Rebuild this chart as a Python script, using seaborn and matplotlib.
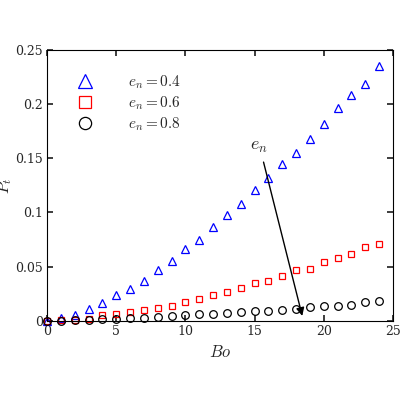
import matplotlib
matplotlib.use("Agg")
import matplotlib.pyplot as plt
import seaborn as sns
import pandas as pd

sns.set_theme(style="ticks")
plt.rcParams['font.family'] = ['DejaVu Serif']
plt.rcParams['mathtext.fontset'] = 'cm'

bo = list(range(25))
p04 = [0, 0.003, 0.0055, 0.011, 0.016, 0.024, 0.029, 0.037, 0.047, 0.055, 0.066, 0.075, 0.087,
       0.098, 0.108, 0.121, 0.132, 0.145, 0.155, 0.168, 0.182, 0.196, 0.208, 0.219, 0.235]
p06 = [0, 0.0005, 0.001, 0.002, 0.005, 0.006, 0.008, 0.010, 0.012, 0.014, 0.0175, 0.020, 0.024,
       0.027, 0.030, 0.035, 0.037, 0.041, 0.047, 0.048, 0.054, 0.058, 0.062, 0.068, 0.071]
p08 = [0, 0, 0.001, 0.001, 0.0015, 0.002, 0.0025, 0.003, 0.0035, 0.004, 0.005, 0.006, 0.0065,
       0.007, 0.008, 0.009, 0.0095, 0.010, 0.011, 0.013, 0.0135, 0.014, 0.015, 0.017, 0.018]
labels = ["$e_n = 0.4$", "$e_n = 0.6$", "$e_n = 0.8$"]

df = pd.concat([pd.DataFrame({"Bo": bo, "P": v, "s": l}) for v, l in zip([p04, p06, p08], labels)])

fig, ax = plt.subplots(figsize=(4, 4), dpi=100)
fig.subplots_adjust(left=0.118, right=0.982, top=0.875, bottom=0.198)
styles = [("^", "blue", 6), ("s", "red", 5), ("o", "black", 5.5)]
for l, (m, c, s) in zip(labels, styles):
    sub = df[df.s == l]
    ax.plot(sub.Bo, sub.P, linestyle="none", marker=m, markersize=s, markerfacecolor="none",
            markeredgecolor=c, markeredgewidth=0.9, label=l, clip_on=False)

ax.set_xlim(0, 25)
ax.set_ylim(0, 0.25)
ax.set_xticks([0, 5, 10, 15, 20, 25])
ax.set_yticks([0, 0.05, 0.1, 0.15, 0.2, 0.25])
ax.set_yticklabels(["0", "0.05", "0.1", "0.15", "0.2", "0.25"])
ax.tick_params(direction="in", top=True, right=True, labelsize=9, length=4, pad=3)
for sp in ax.spines.values():
    sp.set_linewidth(0.8)
    sp.set_color("black")
ax.set_xlabel("$Bo$", fontsize=12, labelpad=4)
ax.set_ylabel("$P_t$", fontsize=12, labelpad=1)
leg = ax.legend(loc="upper left", frameon=False, fontsize=11, markerscale=1.6,
                handletextpad=1.8, borderaxespad=0.9, labelspacing=0.25, borderpad=0.6)
ax.annotate("", xy=(18.5, 0.002), xytext=(15.6, 0.149),
            arrowprops=dict(arrowstyle="-|>", color="black", lw=1))
ax.text(15.3, 0.153, "$e_n$", fontsize=13, ha="center", va="bottom")
fig.savefig("out.png", dpi=100)
